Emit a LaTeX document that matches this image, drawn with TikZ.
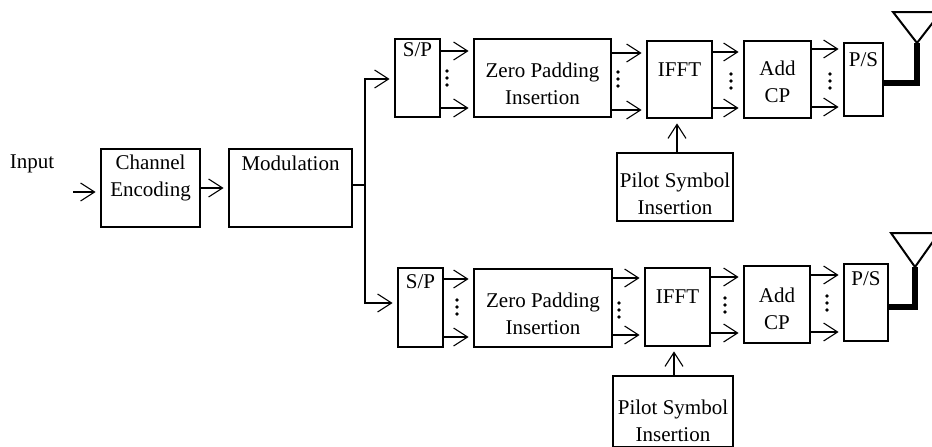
\documentclass[tikz,border=0pt]{standalone}
\usepackage{fontspec}
\setmainfont{Liberation Serif}
\usetikzlibrary{arrows.meta}
\newcommand\busdots[2]{\foreach \d in {-7,0,7}{\fill (#1,{#2+\d}) circle (1.9pt);}}
\begin{document}
\begin{tikzpicture}[x=1pt,y=-1pt,
  blk/.style={draw, line width=2.8pt, inner sep=0pt, rectangle},
  lbl/.style={inner sep=0pt, align=center, font=\fontsize{21}{27}\selectfont},
  arr/.style={line width=1.1pt, -{Straight Barb[length=14pt,width=18pt]}, shorten >=4pt},
  wire/.style={line width=1.1pt},
  ant/.style={line width=5.5pt},
  tri/.style={line width=2pt, line join=miter}
]
\useasboundingbox (0,0) rectangle (932,447);

% ---- common blocks
\node[lbl] (input) at (32,164) {Input};
\node[blk, minimum width=99pt, minimum height=78pt] (ce) at (150.5,188) {};
\node[lbl] (cet) at (150.5,177.5) {Channel\\Encoding};
\node[blk, minimum width=123pt, minimum height=78pt] (mod) at (290.5,188) {};
\node[lbl] (modt) at (290.5,163) {Modulation};

% ---- upper branch
\node[blk, minimum width=45pt, minimum height=78pt] (sp1) at (417.5,78) {};
\node[lbl] (sp1t) at (417.5,50) {S/P};
\node[blk, minimum width=137pt, minimum height=78pt] (zp1) at (542.5,78) {};
\node[lbl] (zp1t) at (542.5,83.5) {Zero Padding\\Insertion};
\node[blk, minimum width=65pt, minimum height=77pt] (if1) at (679.5,79.5) {};
\node[lbl] (if1t) at (679.5,70) {IFFT};
\node[blk, minimum width=67pt, minimum height=77pt] (ac1) at (777.5,79.5) {};
\node[lbl] (ac1t) at (777.5,81.5) {Add\\CP};
\node[blk, minimum width=39pt, minimum height=73pt] (ps1) at (863.5,79.5) {};
\node[lbl] (ps1t) at (863.5,60) {P/S};
\node[blk, minimum width=116pt, minimum height=68pt] (pi1) at (675,187) {};
\node[lbl] (pi1t) at (675,194) {Pilot Symbol\\Insertion};

% ---- lower branch
\node[blk, minimum width=45pt, minimum height=79pt] (sp2) at (420.5,307.5) {};
\node[lbl] (sp2t) at (420.5,282) {S/P};
\node[blk, minimum width=138pt, minimum height=78pt] (zp2) at (543,308) {};
\node[lbl] (zp2t) at (543,313.5) {Zero Padding\\Insertion};
\node[blk, minimum width=65pt, minimum height=78pt] (if2) at (677.5,307) {};
\node[lbl] (if2t) at (677.5,297) {IFFT};
\node[blk, minimum width=66pt, minimum height=77pt] (ac2) at (777,304.5) {};
\node[lbl] (ac2t) at (777,309) {Add\\CP};
\node[blk, minimum width=44pt, minimum height=77pt] (ps2) at (866,302.5) {};
\node[lbl] (ps2t) at (866,279) {P/S};
\node[blk, minimum width=120pt, minimum height=71pt] (pi2) at (673,411.5) {};
\node[lbl] (pi2t) at (673,420.5) {Pilot Symbol\\Insertion};

% ---- connectors
\coordinate (in0) at (73,192);
\draw[arr] (in0) -- (ce.west |- in0);
\draw[arr] (ce.east) -- (mod.west);
\coordinate (split) at (365,185);
\draw[wire] (mod.east |- split) -- (split);
\draw[arr] (split) |- (sp1.west |- 0,79);
\draw[arr] (split) |- (sp2.west |- 0,303);

% upper bus
\draw[arr] (sp1.east |- 0,51) -- (zp1.west |- 0,51);
\draw[arr] (sp1.east |- 0,108) -- (zp1.west |- 0,108);
\draw[arr] (zp1.east |- 0,53) -- (if1.west |- 0,53);
\draw[arr] (zp1.east |- 0,110) -- (if1.west |- 0,110);
\draw[arr] (if1.east |- 0,52) -- (ac1.west |- 0,52);
\draw[arr] (if1.east |- 0,108) -- (ac1.west |- 0,108);
\draw[arr] (ac1.east |- 0,49) -- (ps1.west |- 0,49);
\draw[arr] (ac1.east |- 0,107) -- (ps1.west |- 0,107);
\draw[arr] (pi1.north -| 677,0) -- (if1.south -| 677,0);
\busdots{447}{78}
\busdots{618}{79}
\busdots{731}{81}
\busdots{830}{81}

% lower bus
\draw[arr] (sp2.east |- 0,279) -- (zp2.west |- 0,279);
\draw[arr] (sp2.east |- 0,337) -- (zp2.west |- 0,337);
\draw[arr] (zp2.east |- 0,278) -- (if2.west |- 0,278);
\draw[arr] (zp2.east |- 0,335) -- (if2.west |- 0,335);
\draw[arr] (if2.east |- 0,277) -- (ac2.west |- 0,277);
\draw[arr] (if2.east |- 0,333) -- (ac2.west |- 0,333);
\draw[arr] (ac2.east |- 0,275) -- (ps2.west |- 0,275);
\draw[arr] (ac2.east |- 0,332) -- (ps2.west |- 0,332);
\draw[arr] (pi2.north -| 674,0) -- (if2.south -| 674,0);
\busdots{457}{307}
\busdots{619}{310}
\busdots{725}{305}
\busdots{827}{303}

% ---- antennas
\draw[ant] (ps1.east |- 0,83) -- (917,83) -- (917,43);
\draw[tri] (893,12) -- (941,12) -- (917,43) -- cycle;
\draw[ant] (ps2.east |- 0,307) -- (915,307) -- (915,267);
\draw[tri] (891,233) -- (939,233) -- (915,267) -- cycle;
\end{tikzpicture}
\end{document}
